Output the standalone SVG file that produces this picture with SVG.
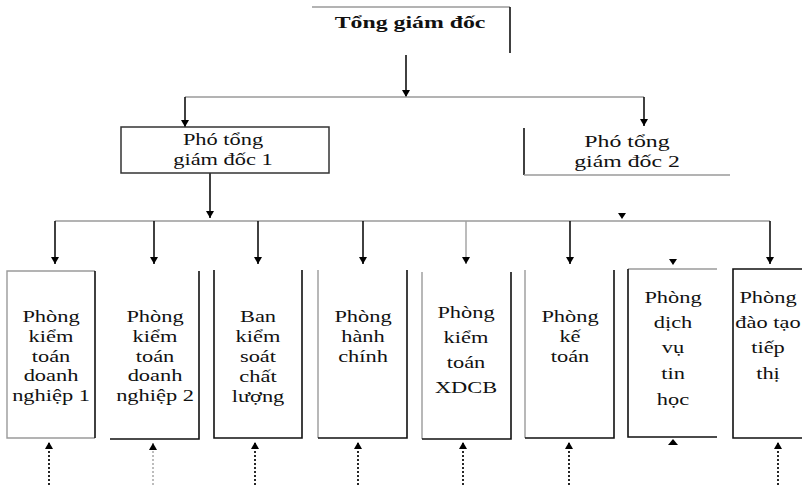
<svg xmlns="http://www.w3.org/2000/svg" width="802" height="485" viewBox="0 0 802 485">
<defs>
<marker id="ah" viewBox="0 0 7 8" markerWidth="7" markerHeight="8" refX="7" refY="4" orient="auto" markerUnits="userSpaceOnUse">
<path d="M0,0 L7,4 L0,8 z" fill="#000"/>
</marker>
</defs>
<style>
.t{font-family:"Liberation Serif","Times New Roman",serif;font-size:16px;fill:#111;text-anchor:middle}
.b{font-weight:bold;font-size:17px}
.k{fill:none;stroke:#111;stroke-width:1.6}
.g{fill:none;stroke:#9a9a9a;stroke-width:1.4}
.ln{fill:none;stroke:#9a9a9a;stroke-width:1.5}
.ar{fill:none;stroke:#111;stroke-width:1.6;marker-end:url(#ah)}
.arg{fill:none;stroke:#a0a0a0;stroke-width:1.4;marker-end:url(#ah)}
.dt{fill:none;stroke:#111;stroke-width:1.8;stroke-dasharray:2 2;marker-end:url(#ah)}
.dtg{fill:none;stroke:#b5b5b5;stroke-width:1.8;stroke-dasharray:2 2;marker-end:url(#ah)}
.hd{fill:#000}
</style>
<rect width="802" height="485" fill="#fff"/>

<g id="connectors">
<line class="ar" x1="406" y1="55" x2="406" y2="97"/>
<line class="ln" x1="185" y1="97" x2="644" y2="97"/>
<line class="ar" x1="185" y1="97" x2="185" y2="127"/>
<line class="ar" x1="644" y1="97" x2="644" y2="126"/>
<line class="ar" x1="210" y1="173" x2="210" y2="218"/>
<line class="ln" x1="55" y1="221" x2="770" y2="221"/>
<polygon class="hd" points="618,213 626,213 622,219"/>
<line class="ar" x1="55" y1="221" x2="55" y2="264"/>
<line class="ar" x1="154" y1="221" x2="154" y2="264"/>
<line class="ar" x1="258" y1="221" x2="258" y2="264"/>
<line class="ar" x1="363" y1="221" x2="363" y2="264"/>
<line class="arg" x1="466" y1="221" x2="466" y2="264"/>
<line class="ar" x1="570" y1="221" x2="570" y2="264"/>
<line class="ar" x1="770" y1="221" x2="770" y2="264"/>
<polygon class="hd" points="669,259 677,259 673,265"/>
<line class="dt" x1="49" y1="485" x2="49" y2="442"/>
<line class="dtg" x1="153" y1="485" x2="153" y2="443"/>
<line class="dt" x1="255" y1="485" x2="255" y2="442"/>
<line class="dt" x1="358" y1="485" x2="358" y2="442"/>
<line class="dt" x1="463" y1="485" x2="463" y2="442"/>
<line class="dt" x1="569" y1="485" x2="569" y2="442"/>
<polygon class="hd" points="668,445 678,445 673,439"/>
<line class="dt" x1="778" y1="485" x2="778" y2="442"/>
</g>

<g id="tong-giam-doc">
<path class="g" d="M312,7 H510"/>
<path class="k" d="M510,7 V53"/>
<text class="t b" transform="translate(410 28) scale(1.4 1)" x="0" y="0">Tổng giám đốc</text>
</g>

<g id="pho-tong-1">
<rect x="121" y="127" width="208" height="46" fill="none" stroke="#333" stroke-width="1.5"/>
<g transform="translate(223 0) scale(1.4 1)">
<text class="t" x="0" y="145">Phó tổng</text>
<text class="t" x="0" y="165">giám đốc 1</text>
</g>
</g>

<g id="pho-tong-2">
<path class="k" d="M524,128 V175"/>
<path class="g" d="M524,175 H730"/>
<g transform="translate(627 0) scale(1.4 1)">
<text class="t" style="font-size:17px" x="0" y="147">Phó tổng</text>
<text class="t" style="font-size:17px" x="0" y="167">giám đốc 2</text>
</g>
</g>

<g id="phong-ktdn-1">
<path class="g" d="M95,271 H7 V438 H95"/>
<path class="k" d="M95,271 V438"/>
<g transform="translate(51 0) scale(1.4 1)">
<text class="t" x="0" y="322">Phòng</text>
<text class="t" x="0" y="342">kiểm</text>
<text class="t" x="0" y="362">toán</text>
<text class="t" x="0" y="381">doanh</text>
<text class="t" x="0" y="401">nghiệp 1</text>
</g>
</g>

<g id="phong-ktdn-2">
<path class="k" d="M199,271 V439 H110"/>
<g transform="translate(155 0) scale(1.4 1)">
<text class="t" x="0" y="322">Phòng</text>
<text class="t" x="0" y="342">kiểm</text>
<text class="t" x="0" y="362">toán</text>
<text class="t" x="0" y="381">doanh</text>
<text class="t" x="0" y="401">nghiệp 2</text>
</g>
</g>

<g id="ban-kiem-soat">
<path class="k" d="M214,270 V438 H302 V270"/>
<g transform="translate(258 0) scale(1.4 1)">
<text class="t" x="0" y="322">Ban</text>
<text class="t" x="0" y="342">kiểm</text>
<text class="t" x="0" y="362">soát</text>
<text class="t" x="0" y="382">chất</text>
<text class="t" x="0" y="402">lượng</text>
</g>
</g>

<g id="phong-hanh-chinh">
<path class="g" d="M318,270 V438"/>
<path class="k" d="M318,438 H407 V270"/>
<g transform="translate(363 0) scale(1.4 1)">
<text class="t" x="0" y="322">Phòng</text>
<text class="t" x="0" y="342">hành</text>
<text class="t" x="0" y="362">chính</text>
</g>
</g>

<g id="phong-xdcb">
<path class="g" d="M422,272 V439"/>
<path class="k" d="M422,439 H511 V272"/>
<g transform="translate(466 0) scale(1.4 1)">
<text class="t" x="0" y="318">Phòng</text>
<text class="t" x="0" y="343">kiểm</text>
<text class="t" x="0" y="368">toán</text>
<text class="t" x="0" y="393">XDCB</text>
</g>
</g>

<g id="phong-ke-toan">
<path class="g" d="M525,270 V438"/>
<path class="k" d="M525,438 H614 V270"/>
<g transform="translate(570 0) scale(1.4 1)">
<text class="t" x="0" y="322">Phòng</text>
<text class="t" x="0" y="342">kế</text>
<text class="t" x="0" y="362">toán</text>
</g>
</g>

<g id="phong-dich-vu">
<path class="g" d="M628,269 H717"/>
<path class="k" d="M628,269 V437 H717"/>
<g transform="translate(673 0) scale(1.4 1)">
<text class="t" x="0" y="303">Phòng</text>
<text class="t" x="0" y="328">dịch</text>
<text class="t" x="0" y="353">vụ</text>
<text class="t" x="0" y="379">tin</text>
<text class="t" x="0" y="405">học</text>
</g>
</g>

<g id="phong-dao-tao">
<path class="k" d="M802,269 H733 V438 H802"/>
<g transform="translate(768 0) scale(1.4 1)">
<text class="t" x="0" y="303">Phòng</text>
<text class="t" x="0" y="328">đào tạo</text>
<text class="t" x="0" y="353">tiếp</text>
<text class="t" x="0" y="379">thị</text>
</g>
</g>
</svg>
